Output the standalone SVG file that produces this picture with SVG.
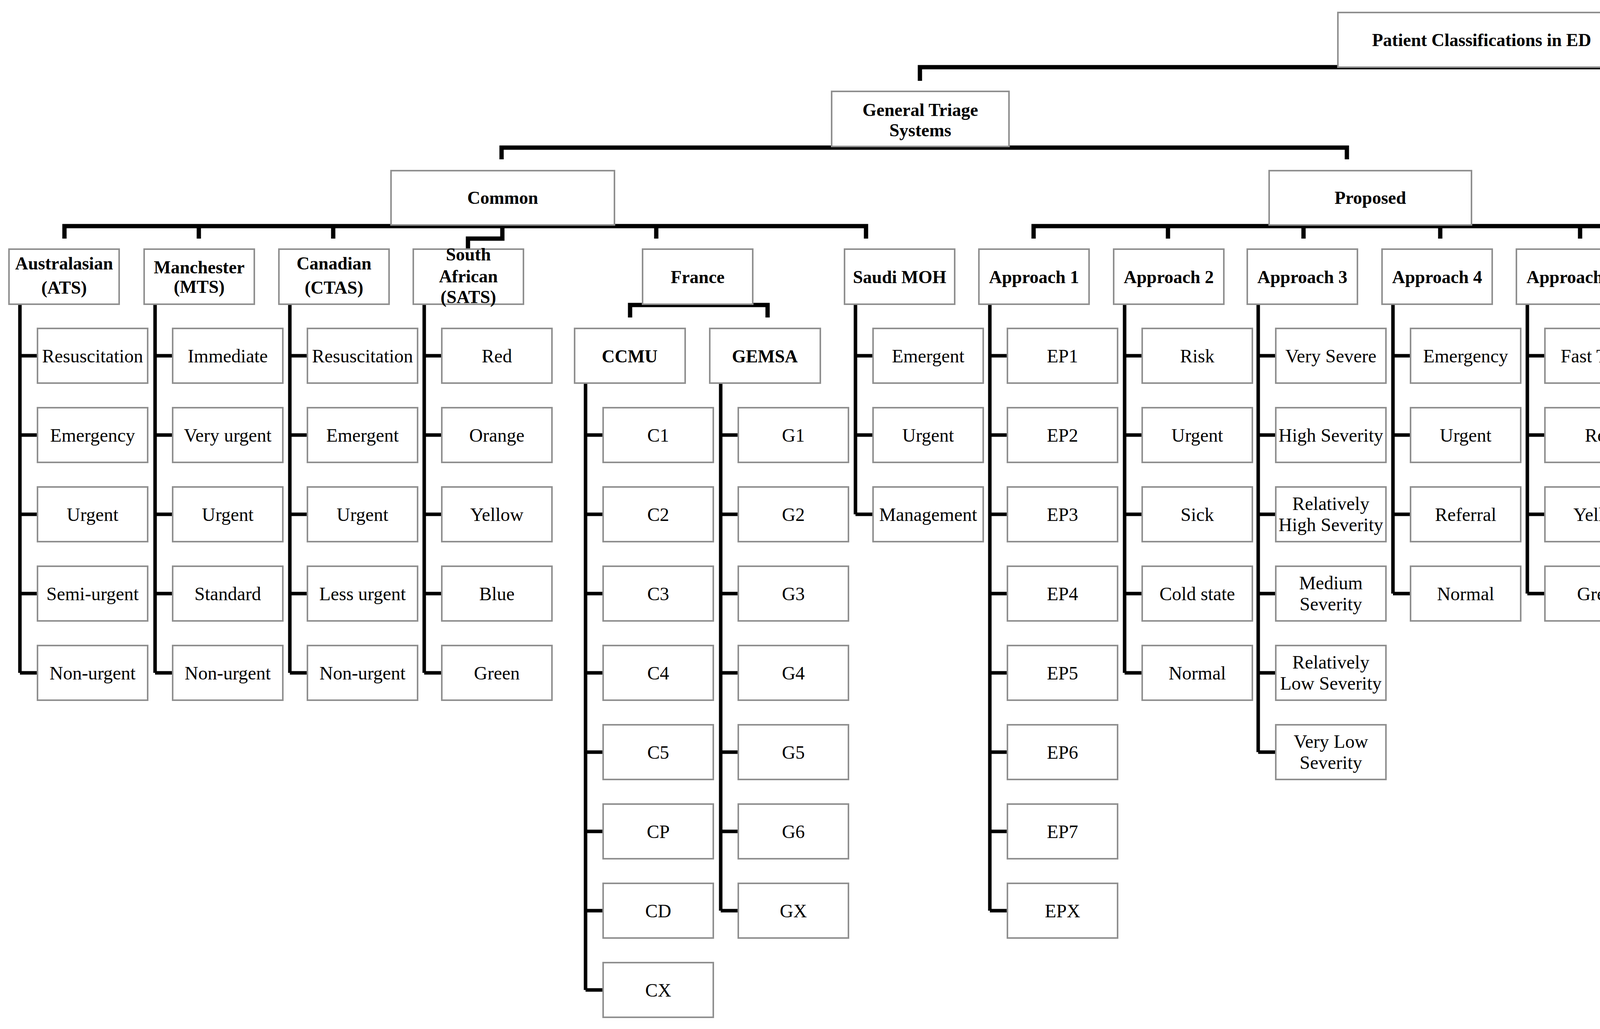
<svg xmlns="http://www.w3.org/2000/svg" width="5997" height="2635" viewBox="0 0 5997 2635">
<style>
rect{fill:#fff;stroke:#8f8f8f;stroke-width:4}
text{font-family:"Liberation Serif","Times New Roman",serif;font-size:48px;text-anchor:middle;fill:#000}
.b{font-weight:bold;font-size:46px}
.c{fill:none;stroke:#000;stroke-width:9}
.t{fill:none;stroke:#000;stroke-width:11}
</style>
<rect x="0" y="0" width="5997" height="2635" style="fill:#fff;stroke:none"/>
<g id="connectors">
<path class="t" d="M2355 207V172H5233V207M1284 408V378H3448V408M4712 408V378H5766V408M5059 378V408M5409 378V408M165 611V579H2217V611M509 579V611M853 579V611M1680 579V611M1286 579V611H1198V638M2646 611V579H4404V611M2990 579V611M3337 579V611M3687 579V611M4045 579V611M1613 813V781H1965V813"/>
<path class="c" d="M51 779V1723M51 911H96M51 1114H96M51 1317H96M51 1520H96M51 1723H96
M397 779V1723M397 911H442M397 1114H442M397 1317H442M397 1520H442M397 1723H442
M742 779V1723M742 911H787M742 1114H787M742 1317H787M742 1520H787M742 1723H787
M1086 779V1723M1086 911H1131M1086 1114H1131M1086 1317H1131M1086 1520H1131M1086 1723H1131
M1499 981V2535M1499 1114H1544M1499 1317H1544M1499 1520H1544M1499 1723H1544M1499 1926H1544M1499 2129H1544M1499 2332H1544M1499 2535H1544
M1845 981V2332M1845 1114H1890M1845 1317H1890M1845 1520H1890M1845 1723H1890M1845 1926H1890M1845 2129H1890M1845 2332H1890
M2190 779V1317M2190 911H2235M2190 1114H2235M2190 1317H2235
M2534 779V2332M2534 911H2579M2534 1114H2579M2534 1317H2579M2534 1520H2579M2534 1723H2579M2534 1926H2579M2534 2129H2579M2534 2332H2579
M2879 779V1723M2879 911H2924M2879 1114H2924M2879 1317H2924M2879 1520H2924M2879 1723H2924
M3221 779V1926M3221 911H3266M3221 1114H3266M3221 1317H3266M3221 1520H3266M3221 1723H3266M3221 1926H3266
M3566 779V1520M3566 911H3611M3566 1114H3611M3566 1317H3611M3566 1520H3611
M3910 779V1520M3910 911H3955M3910 1114H3955M3910 1317H3955M3910 1520H3955
M4254 779V1520M4254 911H4299M4254 1114H4299M4254 1317H4299M4254 1520H4299
M4599 576V1317M4599 708H4644M4599 911H4644M4599 1114H4644M4599 1317H4644
M4945 576V911M4945 708H4990M4945 911H4990
M5289 576V1520M5289 708H5334M5289 911H5334M5289 1114H5334M5289 1317H5334M5289 1520H5334
M5634 576V1114M5634 708H5679M5634 911H5679M5634 1114H5679"/>
</g>
<g id="root"><rect x="3425" y="32" width="736" height="140"/><text class="b" x="3793" y="118">Patient Classifications in ED</text></g>
<g id="general"><rect x="2129" y="234" width="454" height="141"/><text class="b" x="2356" y="297">General Triage</text><text class="b" x="2356" y="349">Systems</text></g>
<g id="covid"><rect x="5003" y="234" width="453" height="141"/><text class="b" x="5230" y="297">COVID-19 Triage</text><text class="b" x="5230" y="349">Systems</text></g>
<g id="common"><rect x="1001" y="437" width="572" height="139"/><text class="b" x="1287" y="522">Common</text></g>
<g id="proposed"><rect x="3249" y="437" width="518" height="139"/><text class="b" x="3508" y="522">Proposed</text></g>
<g id="c-ap1"><rect x="4571" y="437" width="284" height="139"/><text class="b" x="4713" y="522">Approach 1</text></g>
<g id="c-ap2"><rect x="4917" y="437" width="284" height="139"/><text class="b" x="5059" y="522">Approach 2</text></g>
<g id="c-ap3"><rect x="5261" y="437" width="284" height="139"/><text class="b" x="5403" y="522">Approach 3</text></g>
<g id="c-ap4"><rect x="5606" y="437" width="284" height="139"/><text class="b" x="5748" y="522">Approach 4</text></g>
<g id="ats"><rect x="23" y="638" width="282" height="141"/><text class="b" x="164" y="690">Australasian</text><text class="b" x="164" y="752">(ATS)</text></g>
<g id="mts"><rect x="369" y="638" width="282" height="141"/><text class="b" x="510" y="700">Manchester</text><text class="b" x="510" y="750">(MTS)</text></g>
<g id="ctas"><rect x="714" y="638" width="282" height="141"/><text class="b" x="855" y="690">Canadian</text><text class="b" x="855" y="752">(CTAS)</text></g>
<g id="sats"><rect x="1058" y="638" width="282" height="141"/><text class="b" x="1199" y="667">South</text><text class="b" x="1199" y="723">African</text><text class="b" x="1199" y="776">(SATS)</text></g>
<g id="france"><rect x="1645" y="638" width="282" height="141"/><text class="b" x="1786" y="725">France</text></g>
<g id="saudi"><rect x="2162" y="638" width="282" height="141"/><text class="b" x="2303" y="725">Saudi MOH</text></g>
<g id="p-ap1"><rect x="2506" y="638" width="282" height="141"/><text class="b" x="2647" y="725">Approach 1</text></g>
<g id="p-ap2"><rect x="2851" y="638" width="282" height="141"/><text class="b" x="2992" y="725">Approach 2</text></g>
<g id="p-ap3"><rect x="3193" y="638" width="282" height="141"/><text class="b" x="3334" y="725">Approach 3</text></g>
<g id="p-ap4"><rect x="3538" y="638" width="282" height="141"/><text class="b" x="3679" y="725">Approach 4</text></g>
<g id="p-ap5"><rect x="3882" y="638" width="282" height="141"/><text class="b" x="4023" y="725">Approach 5</text></g>
<g id="p-ap6"><rect x="4226" y="638" width="282" height="141"/><text class="b" x="4367" y="725">Approach 6</text></g>
<g id="ccmu"><rect x="1471" y="841" width="283" height="140"/><text class="b" x="1612" y="928">CCMU</text></g>
<g id="gemsa"><rect x="1817" y="841" width="283" height="140"/><text class="b" x="1958" y="928">GEMSA</text></g>
<g id="ats-leaves">
<rect x="96" y="841" width="282" height="140"/><text x="237" y="928">Resuscitation</text>
<rect x="96" y="1044" width="282" height="140"/><text x="237" y="1131">Emergency</text>
<rect x="96" y="1247" width="282" height="140"/><text x="237" y="1334">Urgent</text>
<rect x="96" y="1450" width="282" height="140"/><text x="237" y="1537">Semi-urgent</text>
<rect x="96" y="1653" width="282" height="140"/><text x="237" y="1740">Non-urgent</text>
</g>
<g id="mts-leaves">
<rect x="442" y="841" width="282" height="140"/><text x="583" y="928">Immediate</text>
<rect x="442" y="1044" width="282" height="140"/><text x="583" y="1131">Very urgent</text>
<rect x="442" y="1247" width="282" height="140"/><text x="583" y="1334">Urgent</text>
<rect x="442" y="1450" width="282" height="140"/><text x="583" y="1537">Standard</text>
<rect x="442" y="1653" width="282" height="140"/><text x="583" y="1740">Non-urgent</text>
</g>
<g id="ctas-leaves">
<rect x="787" y="841" width="282" height="140"/><text x="928" y="928">Resuscitation</text>
<rect x="787" y="1044" width="282" height="140"/><text x="928" y="1131">Emergent</text>
<rect x="787" y="1247" width="282" height="140"/><text x="928" y="1334">Urgent</text>
<rect x="787" y="1450" width="282" height="140"/><text x="928" y="1537">Less urgent</text>
<rect x="787" y="1653" width="282" height="140"/><text x="928" y="1740">Non-urgent</text>
</g>
<g id="sats-leaves">
<rect x="1131" y="841" width="282" height="140"/><text x="1272" y="928">Red</text>
<rect x="1131" y="1044" width="282" height="140"/><text x="1272" y="1131">Orange</text>
<rect x="1131" y="1247" width="282" height="140"/><text x="1272" y="1334">Yellow</text>
<rect x="1131" y="1450" width="282" height="140"/><text x="1272" y="1537">Blue</text>
<rect x="1131" y="1653" width="282" height="140"/><text x="1272" y="1740">Green</text>
</g>
<g id="ccmu-leaves">
<rect x="1544" y="1044" width="282" height="140"/><text x="1685" y="1131">C1</text>
<rect x="1544" y="1247" width="282" height="140"/><text x="1685" y="1334">C2</text>
<rect x="1544" y="1450" width="282" height="140"/><text x="1685" y="1537">C3</text>
<rect x="1544" y="1653" width="282" height="140"/><text x="1685" y="1740">C4</text>
<rect x="1544" y="1856" width="282" height="140"/><text x="1685" y="1943">C5</text>
<rect x="1544" y="2059" width="282" height="140"/><text x="1685" y="2146">CP</text>
<rect x="1544" y="2262" width="282" height="140"/><text x="1685" y="2349">CD</text>
<rect x="1544" y="2465" width="282" height="140"/><text x="1685" y="2552">CX</text>
</g>
<g id="gemsa-leaves">
<rect x="1890" y="1044" width="282" height="140"/><text x="2031" y="1131">G1</text>
<rect x="1890" y="1247" width="282" height="140"/><text x="2031" y="1334">G2</text>
<rect x="1890" y="1450" width="282" height="140"/><text x="2031" y="1537">G3</text>
<rect x="1890" y="1653" width="282" height="140"/><text x="2031" y="1740">G4</text>
<rect x="1890" y="1856" width="282" height="140"/><text x="2031" y="1943">G5</text>
<rect x="1890" y="2059" width="282" height="140"/><text x="2031" y="2146">G6</text>
<rect x="1890" y="2262" width="282" height="140"/><text x="2031" y="2349">GX</text>
</g>
<g id="saudi-leaves">
<rect x="2235" y="841" width="282" height="140"/><text x="2376" y="928">Emergent</text>
<rect x="2235" y="1044" width="282" height="140"/><text x="2376" y="1131">Urgent</text>
<rect x="2235" y="1247" width="282" height="140"/><text x="2376" y="1334">Management</text>
</g>
<g id="p-ap1-leaves">
<rect x="2579" y="841" width="282" height="140"/><text x="2720" y="928">EP1</text>
<rect x="2579" y="1044" width="282" height="140"/><text x="2720" y="1131">EP2</text>
<rect x="2579" y="1247" width="282" height="140"/><text x="2720" y="1334">EP3</text>
<rect x="2579" y="1450" width="282" height="140"/><text x="2720" y="1537">EP4</text>
<rect x="2579" y="1653" width="282" height="140"/><text x="2720" y="1740">EP5</text>
<rect x="2579" y="1856" width="282" height="140"/><text x="2720" y="1943">EP6</text>
<rect x="2579" y="2059" width="282" height="140"/><text x="2720" y="2146">EP7</text>
<rect x="2579" y="2262" width="282" height="140"/><text x="2720" y="2349">EPX</text>
</g>
<g id="p-ap2-leaves">
<rect x="2924" y="841" width="282" height="140"/><text x="3065" y="928">Risk</text>
<rect x="2924" y="1044" width="282" height="140"/><text x="3065" y="1131">Urgent</text>
<rect x="2924" y="1247" width="282" height="140"/><text x="3065" y="1334">Sick</text>
<rect x="2924" y="1450" width="282" height="140"/><text x="3065" y="1537">Cold state</text>
<rect x="2924" y="1653" width="282" height="140"/><text x="3065" y="1740">Normal</text>
</g>
<g id="p-ap3-leaves">
<rect x="3266" y="841" width="282" height="140"/><text x="3407" y="928">Very Severe</text>
<rect x="3266" y="1044" width="282" height="140"/><text x="3407" y="1131">High Severity</text>
<rect x="3266" y="1247" width="282" height="140"/><text x="3407" y="1306">Relatively</text><text x="3407" y="1360">High Severity</text>
<rect x="3266" y="1450" width="282" height="140"/><text x="3407" y="1509">Medium</text><text x="3407" y="1563">Severity</text>
<rect x="3266" y="1653" width="282" height="140"/><text x="3407" y="1712">Relatively</text><text x="3407" y="1766">Low Severity</text>
<rect x="3266" y="1856" width="282" height="140"/><text x="3407" y="1915">Very Low</text><text x="3407" y="1969">Severity</text>
</g>
<g id="p-ap4-leaves">
<rect x="3611" y="841" width="282" height="140"/><text x="3752" y="928">Emergency</text>
<rect x="3611" y="1044" width="282" height="140"/><text x="3752" y="1131">Urgent</text>
<rect x="3611" y="1247" width="282" height="140"/><text x="3752" y="1334">Referral</text>
<rect x="3611" y="1450" width="282" height="140"/><text x="3752" y="1537">Normal</text>
</g>
<g id="p-ap5-leaves">
<rect x="3955" y="841" width="282" height="140"/><text x="4096" y="928">Fast Track</text>
<rect x="3955" y="1044" width="282" height="140"/><text x="4096" y="1131">Red</text>
<rect x="3955" y="1247" width="282" height="140"/><text x="4096" y="1334">Yellow</text>
<rect x="3955" y="1450" width="282" height="140"/><text x="4096" y="1537">Green</text>
</g>
<g id="p-ap6-leaves">
<rect x="4299" y="841" width="282" height="140"/><text x="4440" y="928">Resuscitation</text>
<rect x="4299" y="1044" width="282" height="140"/><text x="4440" y="1131">Emergent</text>
<rect x="4299" y="1247" width="282" height="140"/><text x="4440" y="1334">Urgent</text>
<rect x="4299" y="1450" width="282" height="140"/><text x="4440" y="1509">Non-</text><text x="4440" y="1563">emergency</text>
</g>
<g id="c-ap1-leaves">
<rect x="4644" y="638" width="282" height="140"/><text x="4785" y="725">Critical</text>
<rect x="4644" y="841" width="282" height="140"/><text x="4785" y="928">Severe</text>
<rect x="4644" y="1044" width="282" height="140"/><text x="4785" y="1131">Moderate</text>
<rect x="4644" y="1247" width="282" height="140"/><text x="4785" y="1334">Mild</text>
</g>
<g id="c-ap2-leaves">
<rect x="4990" y="638" width="282" height="140"/><text x="5131" y="697">Suspected</text><text x="5131" y="751">case</text>
<rect x="4990" y="841" width="282" height="140"/><text x="5131" y="900">Confirmed</text><text x="5131" y="954">case</text>
</g>
<g id="c-ap3-leaves">
<rect x="5334" y="638" width="282" height="140"/><text x="5475" y="725">ESI 1</text>
<rect x="5334" y="841" width="282" height="140"/><text x="5475" y="928">ESI 2</text>
<rect x="5334" y="1044" width="282" height="140"/><text x="5475" y="1131">ESI 3</text>
<rect x="5334" y="1247" width="282" height="140"/><text x="5475" y="1334">ESI 4</text>
<rect x="5334" y="1450" width="282" height="140"/><text x="5475" y="1537">ESI 5</text>
</g>
<g id="c-ap4-leaves">
<rect x="5679" y="638" width="282" height="140"/><text x="5820" y="725">High-risk</text>
<rect x="5679" y="841" width="282" height="140"/><text x="5820" y="928">Medium-risk</text>
<rect x="5679" y="1044" width="282" height="140"/><text x="5820" y="1131">Low-risk</text>
</g>
</svg>
